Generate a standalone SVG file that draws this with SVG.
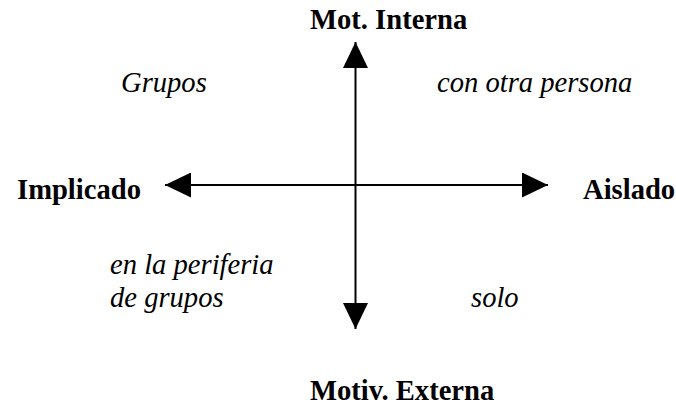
<svg xmlns="http://www.w3.org/2000/svg" width="676" height="405" viewBox="0 0 676 405">
  <style>
    .axis { stroke: #000; stroke-width: 2; fill: none; }
    .bold { font-family: "Liberation Serif", "Times New Roman", serif; font-weight: bold; font-size: 28.6px; fill: #000; }
    .ital { font-family: "Liberation Serif", "Times New Roman", serif; font-style: italic; font-size: 28.6px; fill: #000; }
  </style>
  <defs>
    <marker id="arrow" markerUnits="userSpaceOnUse" markerWidth="26" markerHeight="25" refX="26" refY="12.5" orient="auto-start-reverse" viewBox="0 0 26 25">
      <path d="M0,0 L26,12.5 L0,25 z" fill="#000"/>
    </marker>
  </defs>
  <rect width="676" height="405" fill="#fff"/>
  <g id="connectors">
    <line class="axis" x1="165" y1="185" x2="548" y2="185" marker-start="url(#arrow)" marker-end="url(#arrow)"/>
    <line class="axis" x1="355.5" y1="42" x2="355.5" y2="329" marker-start="url(#arrow)" marker-end="url(#arrow)"/>
  </g>
  <g id="mot-interna"><text class="bold" x="310" y="29">Mot. Interna</text></g>
  <g id="motiv-externa"><text class="bold" x="310" y="400">Motiv. Externa</text></g>
  <g id="implicado"><text class="bold" x="17" y="199">Implicado</text></g>
  <g id="aislado"><text class="bold" x="583" y="199">Aislado</text></g>
  <g id="grupos"><text class="ital" x="121" y="92">Grupos</text></g>
  <g id="con-otra-persona"><text class="ital" x="437" y="92">con otra persona</text></g>
  <g id="periferia"><text class="ital" x="110" y="274">en la periferia<tspan x="110" y="307">de grupos</tspan></text></g>
  <g id="solo"><text class="ital" x="471" y="307">solo</text></g>
</svg>
